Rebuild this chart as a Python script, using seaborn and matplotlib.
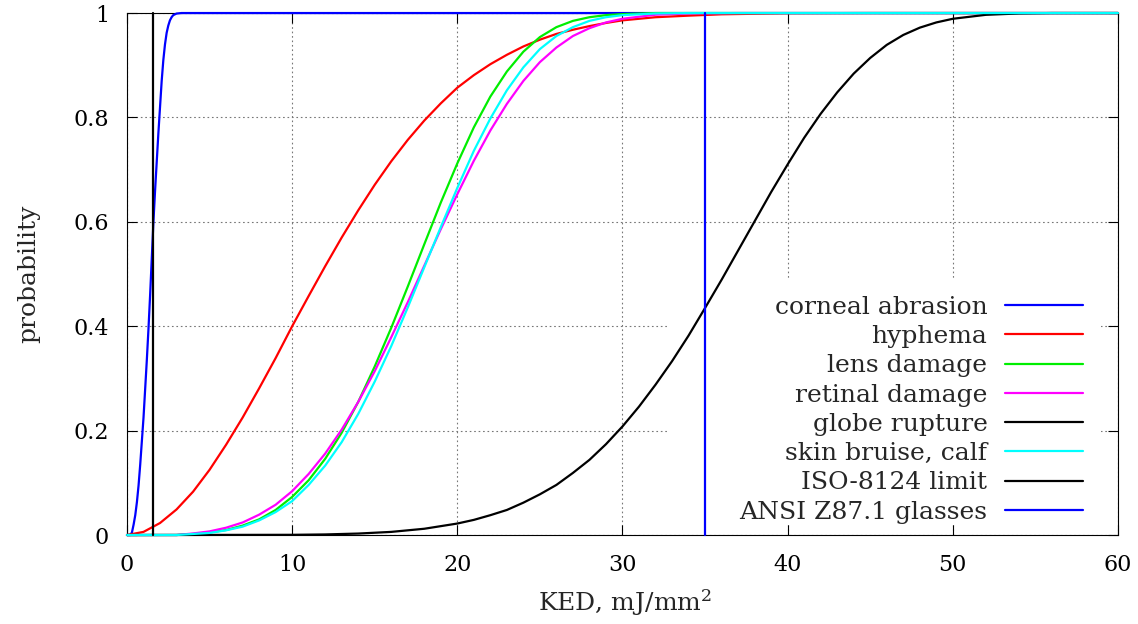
import matplotlib
matplotlib.use("Agg")
import matplotlib.pyplot as plt
from matplotlib.patches import Rectangle
import pandas as pd
import seaborn as sns

# Injury probability vs kinetic energy density
abrasion_x = [0, 0.2, 0.3, 0.4, 0.5, 0.6, 0.7, 0.8, 0.9, 1.0, 1.1, 1.2, 1.3, 1.4, 1.5, 1.6, 1.7, 1.8,
              1.9, 2.0, 2.1, 2.2, 2.3, 2.4, 2.5, 2.6, 2.7, 2.8, 3.0, 3.3, 60]
abrasion_p = [0, 0.0, 0.005, 0.02, 0.038, 0.063, 0.095, 0.135, 0.18, 0.225, 0.28, 0.335, 0.395, 0.46,
              0.53, 0.6, 0.66, 0.715, 0.77, 0.82, 0.87, 0.91, 0.94, 0.962, 0.976, 0.986, 0.992, 0.996,
              0.999, 1.0, 1.0]

hyphema_x = [0, 1, 2, 3, 4, 5, 6, 7, 8, 9, 10, 11, 12, 13, 14, 15, 16, 17, 18, 19, 20, 21, 22, 23,
             24, 25, 26, 27, 28, 29, 30, 32, 34, 36, 40, 45, 60]
hyphema_p = [0, 0.006, 0.023, 0.049, 0.083, 0.125, 0.173, 0.225, 0.281, 0.339, 0.4, 0.458, 0.515,
             0.570, 0.622, 0.671, 0.716, 0.757, 0.794, 0.827, 0.857, 0.881, 0.902, 0.920, 0.936,
             0.949, 0.960, 0.968, 0.975, 0.981, 0.986, 0.992, 0.995, 0.9976, 0.9996, 1.0, 1.0]

lens_x = [0, 3, 4, 5, 6, 7, 8, 9, 10, 11, 12, 13, 14, 15, 16, 17, 18, 19, 20, 21, 22, 23, 24, 25,
          26, 27, 28, 29, 30, 32, 60]
lens_p = [0, 0, 0.002, 0.005, 0.0096, 0.018, 0.030, 0.048, 0.073, 0.105, 0.146, 0.196, 0.255, 0.323,
          0.397, 0.476, 0.557, 0.637, 0.712, 0.781, 0.840, 0.888, 0.926, 0.954, 0.973, 0.985, 0.992,
          0.996, 0.998, 1.0, 1.0]

retina_x = [0, 3, 4, 5, 6, 7, 8, 9, 10, 11, 12, 13, 14, 15, 16, 17, 18, 19, 20, 21, 22, 23, 24, 25,
            26, 27, 28, 29, 30, 32, 34, 37, 60]
retina_p = [0, 0, 0.003, 0.007, 0.014, 0.024, 0.039, 0.058, 0.084, 0.117, 0.156, 0.202, 0.255, 0.314,
            0.379, 0.446, 0.516, 0.586, 0.653, 0.717, 0.775, 0.826, 0.870, 0.906, 0.934, 0.956,
            0.971, 0.982, 0.989, 0.9968, 0.9992, 1.0, 1.0]

globe_x = [0, 10, 12, 14, 16, 18, 20, 21, 22, 23, 24, 25, 26, 27, 28, 29, 30, 31, 32, 33, 34, 35, 36,
           37, 38, 39, 40, 41, 42, 43, 44, 45, 46, 47, 48, 49, 50, 52, 54, 56, 60]
globe_p = [0, 0.0004, 0.0011, 0.0028, 0.006, 0.012, 0.022, 0.029, 0.038, 0.048, 0.062, 0.078, 0.096,
           0.119, 0.144, 0.174, 0.208, 0.246, 0.288, 0.333, 0.382, 0.435, 0.489, 0.545, 0.601, 0.657,
           0.710, 0.761, 0.807, 0.848, 0.884, 0.914, 0.939, 0.958, 0.972, 0.982, 0.989, 0.9966,
           0.9992, 1.0, 1.0]

bruise_x = [0, 3, 4, 5, 6, 7, 8, 9, 10, 11, 12, 13, 14, 15, 16, 17, 18, 19, 20, 21, 22, 23, 24, 25,
            26, 27, 28, 29, 30, 32, 34, 60]
bruise_p = [0, 0, 0.002, 0.004, 0.009, 0.016, 0.028, 0.044, 0.065, 0.096, 0.133, 0.178, 0.232, 0.294,
            0.362, 0.436, 0.513, 0.590, 0.665, 0.736, 0.798, 0.852, 0.896, 0.931, 0.956, 0.973,
            0.985, 0.992, 0.996, 0.9992, 1.0, 1.0]

iso_limit = 1.6    # ISO-8124 limit, mJ/mm^2
ansi_limit = 35    # ANSI Z87.1 glasses, mJ/mm^2

labels = ["corneal abrasion", "hyphema", "lens damage", "retinal damage",
          "globe rupture", "skin bruise, calf", "ISO-8124 limit", "ANSI Z87.1 glasses"]
colors = ["#0000ff", "#ff0000", "#00ee00", "#ff00ff", "#000000", "#00ffff", "#000000", "#0000ff"]

xticks = [0, 10, 20, 30, 40, 50, 60]
yticks = [0, 0.2, 0.4, 0.6, 0.8, 1]
ytick_labels = ["0", "0.2", "0.4", "0.6", "0.8", "1"]

sns.set_style("ticks")
plt.rcParams["font.family"] = ["DejaVu Serif"]
plt.rcParams["mathtext.fontset"] = "dejavuserif"

fig = plt.figure(figsize=(11.38, 6.24), dpi=100)
ax = fig.add_axes([0.1116, 0.1426, 0.8708, 0.8365])

series = [(abrasion_x, abrasion_p), (hyphema_x, hyphema_p), (lens_x, lens_p), (retina_x, retina_p),
          (globe_x, globe_p), (bruise_x, bruise_p),
          ([iso_limit, iso_limit], [0, 1]), ([ansi_limit, ansi_limit], [0, 1])]

for (xs, ps), lab, col in zip(series, labels, colors):
    df = pd.DataFrame({"ked": xs, "prob": ps})
    sns.lineplot(data=df, x="ked", y="prob", ax=ax, color=col, label=lab, lw=1.6,
                 sort=False, estimator=None, clip_on=False, zorder=3)

ax.set_xlim(0, 60)
ax.set_ylim(0, 1)
ax.set_xticks(xticks)
ax.set_xticklabels([str(t) for t in xticks])
ax.set_yticks(yticks)
ax.set_yticklabels(ytick_labels)
ax.tick_params(direction="in", length=7, width=0.8, top=True, right=True,
               labelsize=16, colors="black")
ax.tick_params(axis="x", pad=14)
ax.tick_params(axis="y", pad=13)
for sp in ax.spines.values():
    sp.set_linewidth(0.8)
    sp.set_color("black")

ax.set_axisbelow(True)
ax.grid(True, color="#777777", linestyle=(0, (1.5, 2.5)), linewidth=0.8)

# opaque key area hides the grid behind it
ax.add_patch(Rectangle((0.546, 0.019), 0.437, 0.47, transform=ax.transAxes,
                       facecolor="white", edgecolor="none", zorder=1))

ax.set_xlabel("KED, mJ/mm$^2$", fontsize=18)
ax.set_ylabel("probability", fontsize=18)
ax.xaxis.set_label_coords(0.5025, -0.10)
ax.yaxis.set_label_coords(-0.088, 0.5)

leg = ax.legend(loc="lower right", bbox_to_anchor=(0.9647, 0.022), frameon=False,
                fontsize=18, markerfirst=False, handlelength=3.1, handletextpad=0.72,
                labelspacing=0.25, borderpad=0, borderaxespad=0)
leg.set_zorder(2)

fig.savefig("out.png", dpi=100)
